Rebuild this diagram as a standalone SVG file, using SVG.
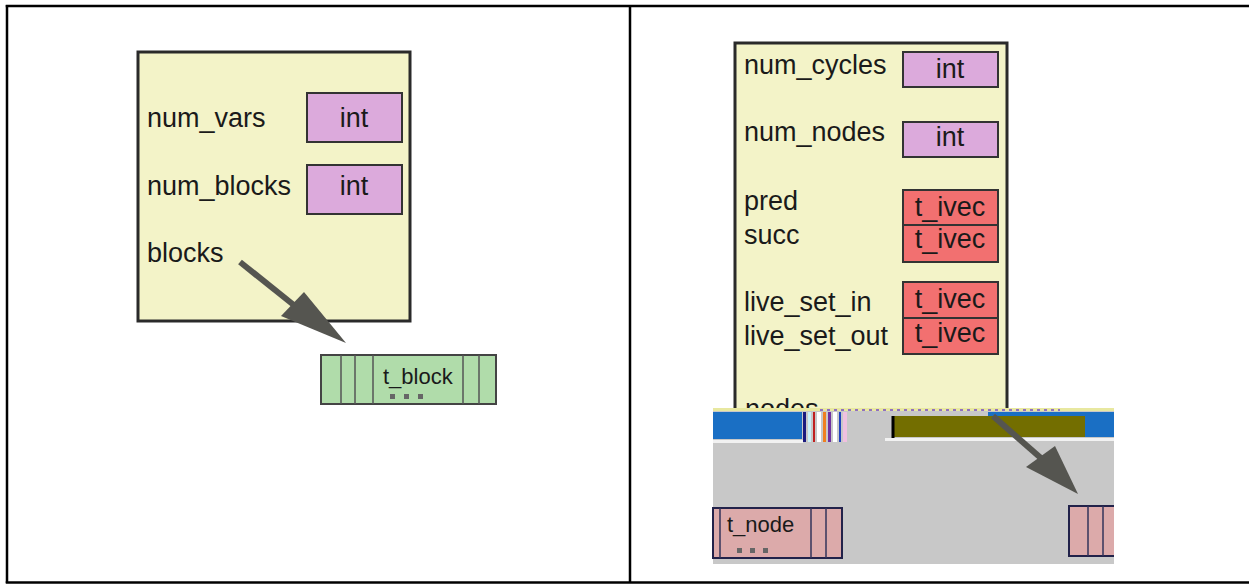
<svg xmlns="http://www.w3.org/2000/svg" width="1249" height="584" viewBox="0 0 1249 584">
<style>
text{font-family:"Liberation Sans",Arial,sans-serif;fill:#1a1a1a}
.lbl{font-size:27px}
.ty{font-size:27px;text-anchor:middle}
.sm{font-size:22px}
.big{fill:#f3f3c8;stroke:#2a2a2a;stroke-width:3}
.pl{fill:#dcaadc;stroke:#333;stroke-width:2}
.rd{fill:#f27070;stroke:#333;stroke-width:2}
.gr{fill:#b0dcaa;stroke:#444;stroke-width:2}
.pk{fill:#dcaaaa;stroke:#22224a;stroke-width:2}
.vl{stroke:#555;stroke-width:1.5}
.vn{stroke:#33335a;stroke-width:1.5}
.dot{fill:#666}
.arr{stroke:#555550;stroke-width:6;fill:none}
.ah{fill:#555550}
</style>
<defs>
<clipPath id="cut"><rect x="700" y="0" width="400" height="409"/></clipPath>
<clipPath id="cut2"><rect x="700" y="400" width="414" height="170"/></clipPath>
</defs>
<g id="table" stroke="#000" stroke-width="2.5" fill="none">
<line x1="5.75" y1="6" x2="1249" y2="6"/>
<line x1="5.75" y1="582.5" x2="1249" y2="582.5"/>
<line x1="7" y1="5" x2="7" y2="583"/>
<line x1="630" y1="5" x2="630" y2="583"/>
</g>
<g id="graph-left">
<rect class="big" x="138" y="52" width="272" height="269"/>
<text class="lbl" x="147" y="127">num_vars</text>
<rect class="pl" x="307" y="93" width="95" height="49"/>
<text class="ty" x="354" y="127">int</text>
<text class="lbl" x="147" y="195">num_blocks</text>
<rect class="pl" x="307" y="165" width="95" height="49"/>
<text class="ty" x="354" y="195">int</text>
<text class="lbl" x="147" y="262">blocks</text>
</g>
<g id="t_block">
<rect class="gr" x="321" y="355" width="175" height="49"/>
<line class="vl" x1="341" y1="355" x2="341" y2="404"/>
<line class="vl" x1="355" y1="355" x2="355" y2="404"/>
<line class="vl" x1="373" y1="355" x2="373" y2="404"/>
<line class="vl" x1="463" y1="355" x2="463" y2="404"/>
<line class="vl" x1="479" y1="355" x2="479" y2="404"/>
<text class="sm" x="383" y="384">t_block</text>
<rect class="dot" x="390" y="394" width="5" height="5"/>
<rect class="dot" x="404" y="394" width="5" height="5"/>
<rect class="dot" x="418" y="394" width="5" height="5"/>
</g>
<g id="graph-right">
<rect class="big" x="735" y="43" width="272" height="380" clip-path="url(#cut)"/>
<text class="lbl" x="744" y="74">num_cycles</text>
<rect class="pl" x="903" y="52" width="95" height="35"/>
<text class="ty" x="950" y="78">int</text>
<text class="lbl" x="744" y="141">num_nodes</text>
<rect class="pl" x="903" y="122" width="95" height="35"/>
<text class="ty" x="950" y="146">int</text>
<text class="lbl" x="744" y="210">pred</text>
<rect class="rd" x="903" y="190" width="95" height="35"/>
<text class="ty" x="950" y="216">t_ivec</text>
<text class="lbl" x="744" y="244">succ</text>
<rect class="rd" x="903" y="225" width="95" height="37"/>
<text class="ty" x="950" y="248">t_ivec</text>
<text class="lbl" x="744" y="311">live_set_in</text>
<rect class="rd" x="903" y="282" width="95" height="36"/>
<text class="ty" x="950" y="308">t_ivec</text>
<text class="lbl" x="744" y="345">live_set_out</text>
<rect class="rd" x="903" y="318" width="95" height="36"/>
<text class="ty" x="950" y="342">t_ivec</text>
<text class="lbl" x="745" y="418" clip-path="url(#cut)">nodes</text>
</g>
<g id="glitch">
<rect x="713" y="408" width="401" height="156" fill="#c8c8c8"/>
<rect x="713" y="408" width="401" height="3" fill="#e8e8a0"/>
<rect x="713" y="412" width="89" height="27" fill="#1a6fc4"/>
<rect x="988" y="412" width="126" height="25" fill="#1a6fc4"/>
<rect x="892" y="416" width="193" height="21" fill="#736e00"/>
<line x1="893" y1="416" x2="893" y2="438" stroke="#000" stroke-width="3"/>
<rect x="885" y="438" width="229" height="3" fill="#f2f2f2"/>
<rect x="713" y="440" width="90" height="3" fill="#f2f2f2"/>
<rect x="803" y="412" width="3" height="30" fill="#1a1a80"/>
<rect x="808" y="412" width="3" height="30" fill="#c8f0f8"/>
<rect x="813" y="412" width="2" height="30" fill="#c02020"/>
<rect x="817" y="412" width="4" height="30" fill="#ffffff"/>
<rect x="823" y="412" width="3" height="30" fill="#f08020"/>
<rect x="828" y="412" width="3" height="30" fill="#7030a0"/>
<rect x="833" y="412" width="4" height="30" fill="#ffffff"/>
<rect x="839" y="412" width="2" height="30" fill="#2040c0"/>
<rect x="843" y="412" width="4" height="30" fill="#f0c0e0"/>
<line x1="820" y1="410" x2="1060" y2="410" stroke="#9070c0" stroke-width="2" stroke-dasharray="3 4"/>
</g>
<g id="t_node">
<rect class="pk" x="713" y="508" width="129" height="50"/>
<line class="vn" x1="720" y1="508" x2="720" y2="558"/>
<line class="vn" x1="811" y1="508" x2="811" y2="558"/>
<line class="vn" x1="826" y1="508" x2="826" y2="558"/>
<text class="sm" x="727" y="532">t_node</text>
<rect class="dot" x="737" y="548" width="5" height="5"/>
<rect class="dot" x="750" y="548" width="5" height="5"/>
<rect class="dot" x="763" y="548" width="5" height="5"/>
</g>
<g id="t_node_2" clip-path="url(#cut2)">
<rect class="pk" x="1069" y="506" width="60" height="50"/>
<line class="vn" x1="1088" y1="506" x2="1088" y2="556"/>
<line class="vn" x1="1103" y1="506" x2="1103" y2="556"/>
</g>
<g id="connectors">
<line class="arr" x1="240" y1="262" x2="295" y2="306"/>
<polygon class="ah" points="346,343 281,316 304,292"/>
<line class="arr" x1="993" y1="416" x2="1042" y2="459"/>
<polygon class="ah" points="1078,494 1026,467 1055,446"/>
</g>
</svg>
